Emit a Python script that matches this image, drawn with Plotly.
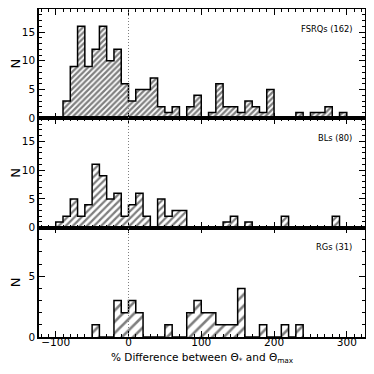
import plotly.graph_objects as go
from plotly.subplots import make_subplots

# -----------------------------
# Histogram data (bin width 10)
# -----------------------------
BIN_W = 10

fsrq_start = -90
fsrq_counts = [3, 9, 16, 9, 12, 16, 10, 12, 6,
               3, 5, 5, 7, 2, 1, 2, 0, 2, 4,
               0, 1, 6, 2, 2, 1, 3, 2, 1, 5,
               0, 0, 0, 1, 0, 1, 1, 2, 0, 1]

bl_start = -100
bl_counts = [1, 2, 5, 2, 4, 11, 9, 5, 6, 2,
             4, 6, 2, 0, 5, 2, 3, 3, 0, 0,
             0, 0, 0, 1, 2, 0, 1, 0, 0, 0,
             0, 2, 0, 0, 0, 0, 0, 0, 2]

rg_start = -50
rg_counts = [1, 0, 0, 3, 2, 3, 2, 0, 0, 0,
             1, 0, 0, 2, 3, 2, 2, 1, 1, 1,
             4, 0, 0, 1, 0, 0, 1, 0, 1]

labels = ["FSRQs (162)", "BLs (80)", "RGs (31)"]
panels = [(fsrq_start, fsrq_counts), (bl_start, bl_counts), (rg_start, rg_counts)]
y_max = [19, 19, 9]
hatch_size = [4, 5, 8]
hatch_solid = [0.55, 0.45, 0.32]

FONT = "DejaVu Sans"

fig = make_subplots(rows=3, cols=1, shared_xaxes=True, vertical_spacing=0)


def step_outline(start, counts):
    xs, ys = [start], [0]
    for i, c in enumerate(counts):
        left = start + i * BIN_W
        xs += [left, left + BIN_W]
        ys += [c, c]
    xs.append(start + len(counts) * BIN_W)
    ys.append(0)
    return xs, ys


for row, (start, counts) in enumerate(panels, start=1):
    centers = [start + BIN_W * (i + 0.5) for i in range(len(counts))]
    fig.add_trace(go.Bar(
        x=centers, y=counts, width=BIN_W,
        marker=dict(color="white", line=dict(width=0),
                    pattern=dict(shape="/", size=hatch_size[row - 1],
                                 solidity=hatch_solid[row - 1],
                                 fgcolor="black", bgcolor="white")),
        showlegend=False,
    ), row=row, col=1)
    xs, ys = step_outline(start, counts)
    fig.add_trace(go.Scatter(x=xs, y=ys, mode="lines",
                             line=dict(color="black", width=1.5),
                             showlegend=False), row=row, col=1)
    fig.update_yaxes(range=[0, y_max[row - 1]], dtick=5,
                     minor=dict(dtick=1, ticks="inside", ticklen=3, tickcolor="black"),
                     title_text="N", title_standoff=7, row=row, col=1)
    yref = "y domain" if row == 1 else f"y{row} domain"
    xref = "x domain" if row == 1 else f"x{row} domain"
    fig.add_annotation(text=labels[row - 1], xref=xref, yref=yref,
                       x=0.965, y=0.82, xanchor="right", yanchor="middle",
                       showarrow=False, font=dict(size=8.3, family=FONT, color="black"))

fig.update_xaxes(range=[-123, 325], dtick=100, showline=True, linecolor="black",
                 linewidth=1.5, mirror="allticks", ticks="inside", ticklen=6,
                 tickwidth=1, tickcolor="black", showgrid=False, zeroline=False,
                 automargin=False, ticklabelstandoff=-5,
                 minor=dict(dtick=10, ticks="inside", ticklen=3, tickcolor="black"))
fig.update_yaxes(showline=True, linecolor="black", linewidth=1.5, mirror="allticks",
                 ticks="inside", ticklen=6, tickwidth=1, tickcolor="black",
                 showgrid=False, zeroline=False, automargin=False)

# x-axis title as a paper annotation below the tick labels
fig.add_annotation(text="% Difference between Θ<sub>*</sub> and Θ<sub>max</sub>",
                   xref="x3 domain", yref="paper", x=0.5, y=-0.064,
                   xanchor="center", yanchor="middle", showarrow=False,
                   font=dict(size=10.5, family=FONT, color="black"))

# dotted zero line through all panels
fig.add_shape(type="line", xref="x", yref="paper", x0=0, x1=0, y0=0, y1=1,
              line=dict(color="gray", width=1, dash="1px,2px"))

# page body keeps an 8px margin, so the figure is sized 358 and margins shifted
fig.update_layout(
    width=358, height=358,
    margin=dict(l=31, r=1, t=1, b=29),
    plot_bgcolor="white", paper_bgcolor="white",
    bargap=0,
    font=dict(family=FONT, size=10.5, color="black"),
)

fig.write_html("out.html")
